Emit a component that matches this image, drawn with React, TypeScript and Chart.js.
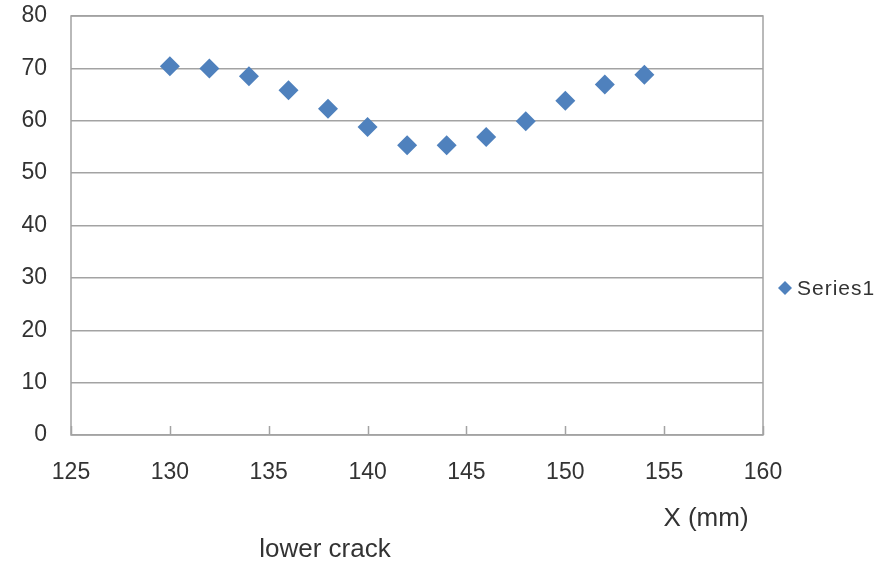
import React, { useEffect, useRef } from "react";
import { Chart, registerables } from "chart.js";

Chart.register(...registerables);

const xValues = [130, 132, 134, 136, 138, 140, 142, 144, 146, 148, 150, 152, 154];
const yValues = [70.4, 70.0, 68.5, 65.8, 62.3, 58.8, 55.3, 55.3, 56.9, 59.9, 63.8, 66.9, 68.8];
const seriesName = "Series1";
const xTitle = "X (mm)";
const bottomTitle = "lower crack";

const TEXT = "#333333";
const GRID = "#a3a3a3";
const BLUE = "#4F81BD";
const FONT = "'Liberation Sans', Arial, sans-serif";

const decor = {
  id: "decor",
  beforeDatasetsDraw(chart: any) {
    const { ctx, chartArea, scales } = chart;
    ctx.save();
    ctx.strokeStyle = GRID;
    ctx.lineWidth = 1.5;
    ctx.strokeRect(chartArea.left, chartArea.top, chartArea.right - chartArea.left, chartArea.bottom - chartArea.top);
    const xs = scales.x;
    ctx.beginPath();
    for (const t of xs.ticks) {
      const px = Math.round(xs.getPixelForValue(t.value)) + 0.5;
      ctx.moveTo(px, chartArea.bottom);
      ctx.lineTo(px, chartArea.bottom - 9);
    }
    ctx.stroke();
    ctx.restore();
  },
  afterDraw(chart: any) {
    const { ctx } = chart;
    ctx.save();
    ctx.fillStyle = TEXT;
    ctx.textBaseline = "middle";
    ctx.textAlign = "center";
    ctx.font = `26px ${FONT}`;
    ctx.fillText(xTitle, 706, 519);
    ctx.fillText(bottomTitle, 325, 550);
    const lx = 785, ly = 288, r = 7;
    ctx.fillStyle = BLUE;
    ctx.beginPath();
    ctx.moveTo(lx, ly - r);
    ctx.lineTo(lx + r, ly);
    ctx.lineTo(lx, ly + r);
    ctx.lineTo(lx - r, ly);
    ctx.closePath();
    ctx.fill();
    ctx.fillStyle = TEXT;
    ctx.textAlign = "left";
    ctx.font = `21px ${FONT}`;
    (ctx as any).letterSpacing = "1px";
    ctx.fillText(seriesName, 797, 289);
    ctx.restore();
  },
};

export default function App() {
  const ref = useRef<HTMLCanvasElement>(null);
  useEffect(() => {
    if (!ref.current) return;
    const chart = new Chart(ref.current, {
      type: "scatter",
      data: {
        datasets: [
          {
            label: seriesName,
            data: xValues.map((x, i) => ({ x, y: yValues[i] })),
            pointStyle: "rectRot",
            pointRadius: 10,
            pointBackgroundColor: BLUE,
            pointBorderColor: BLUE,
            pointBorderWidth: 0,
          },
        ],
      },
      options: {
        animation: false,
        responsive: false,
        maintainAspectRatio: false,
        layout: { padding: { left: 0, top: 16, right: 132, bottom: 0 } },
        plugins: { legend: { display: false }, tooltip: { enabled: false } },
        scales: {
          x: {
            type: "linear",
            min: 125,
            max: 160,
            ticks: { stepSize: 5, color: TEXT, font: { family: FONT, size: 23 }, padding: 24, maxRotation: 0 },
            grid: { display: false, drawTicks: false },
            border: { display: false },
            afterFit: (s: any) => { s.height = 129; },
          },
          y: {
            type: "linear",
            min: 0,
            max: 80,
            ticks: { stepSize: 10, color: TEXT, font: { family: FONT, size: 23 }, padding: 24 },
            grid: { color: GRID, lineWidth: 1.5, drawTicks: false },
            border: { display: false },
            afterFit: (s: any) => { s.width = 71; s.paddingTop = 0; s.paddingBottom = 0; },
          },
        },
      },
      plugins: [decor],
    });
    return () => chart.destroy();
  }, []);
  return (
    <div style={{ position: "absolute", left: 0, top: 0, width: 895, height: 564, background: "#fff" }}>
      <canvas ref={ref} width={895} height={564} style={{ width: 895, height: 564 }} />
    </div>
  );
}
